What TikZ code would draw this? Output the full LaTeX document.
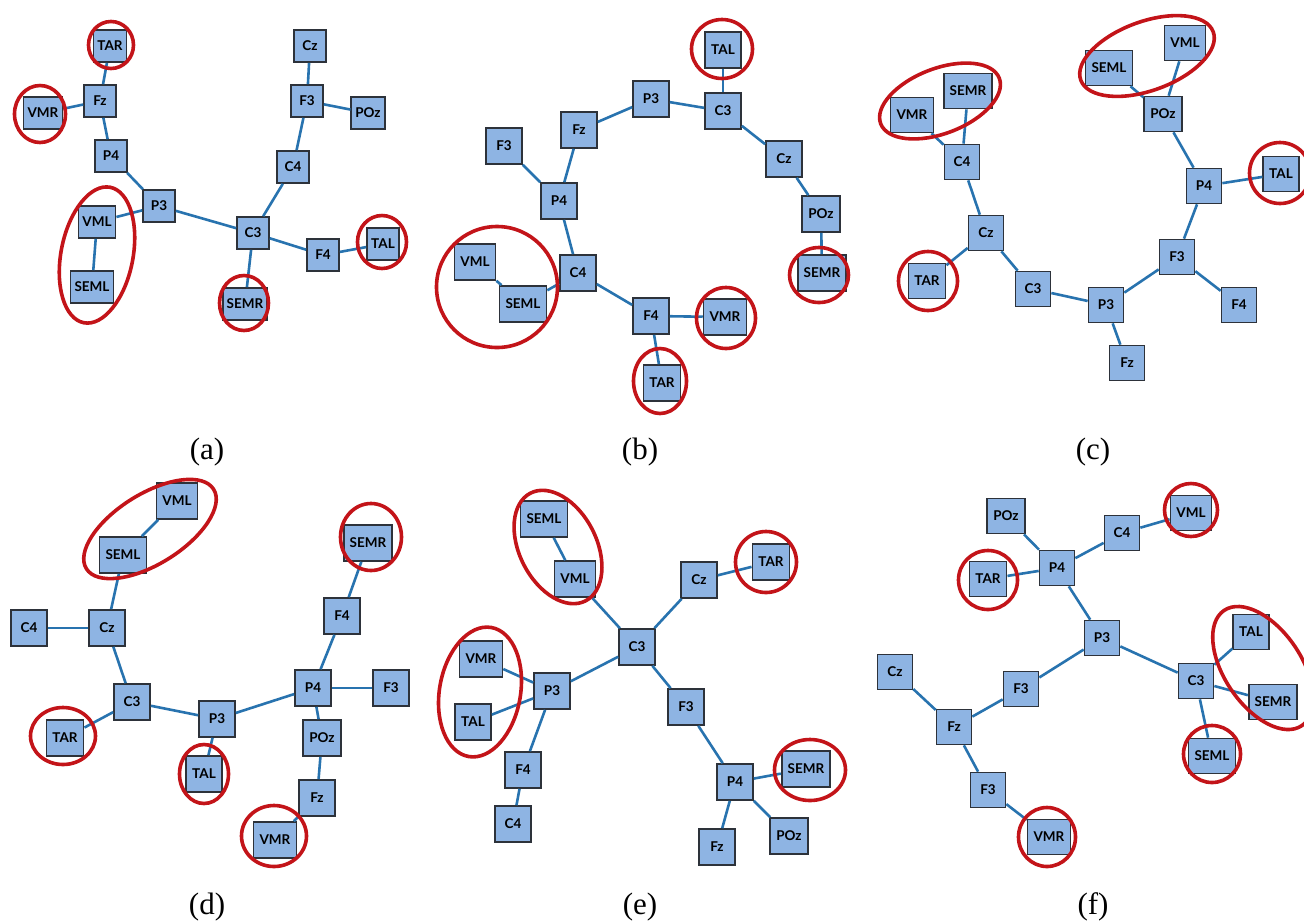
\documentclass[tikz,border=0pt]{standalone}
\usepackage{fontspec}
\setmainfont{Liberation Serif}
\newfontfamily\boxfont{Lato}
\usetikzlibrary{shapes.geometric}

\definecolor{boxfill}{RGB}{142,180,227}
\definecolor{boxline}{RGB}{45,50,58}
\definecolor{linkblue}{RGB}{40,115,175}
\definecolor{ringred}{RGB}{195,20,25}

\tikzset{
  eeg/.style={draw=boxline, fill=boxfill, line width=1.7pt, inner xsep=6pt, inner ysep=0pt,
    minimum width=36pt, minimum height=36pt,
    font=\boxfont\bfseries\fontsize{13.5pt}{13.5pt}\selectfont},
  eegsmall/.style={eeg, minimum width=32pt, minimum height=32pt, inner xsep=4pt},
  eegmid/.style={eeg, minimum width=35pt, minimum height=35pt},
  link/.style={draw=linkblue, line width=2.6pt},
  ring/.style={draw=ringred, line width=3.6pt, ellipse, inner sep=0pt},
  caption/.style={font=\fontsize{31pt}{31pt}\selectfont, inner sep=0pt}
}

\begin{document}
\begin{tikzpicture}[x=1pt,y=-1pt]
\path[use as bounding box, fill=white] (0,0) rectangle (1304,922);

% ---------- (a) ----------
\node[eegsmall] (aTAR) at (110,46) {TAR};
\node[eegsmall] (aFz) at (100,101) {Fz};
\node[eegsmall] (aVMR) at (43,113) {VMR};
\node[eegsmall] (aP4) at (111,156) {P4};
\node[eegsmall] (aP3) at (159,206) {P3};
\node[eegsmall] (aVML) at (97,222) {VML};
\node[eegsmall] (aSEML) at (92,287) {SEML};
\node[eegsmall] (aC3) at (253,233) {C3};
\node[eegsmall] (aSEMR) at (245,304) {SEMR};
\node[eegsmall] (aF4) at (323,255) {F4};
\node[eegsmall] (aTAL) at (383,244) {TAL};
\node[eegsmall] (aC4) at (293,167) {C4};
\node[eegsmall] (aF3) at (307,101) {F3};
\node[eegsmall] (aCz) at (310,46) {Cz};
\node[eegsmall] (aPOz) at (368,113) {POz};
\foreach \u/\v in {aTAR/aFz, aFz/aVMR, aFz/aP4, aP4/aP3, aP3/aVML, aVML/aSEML, aP3/aC3,
  aC3/aSEMR, aC3/aF4, aF4/aTAL, aC3/aC4, aC4/aF3, aF3/aCz, aF3/aPOz}
  \draw[link] (\u) -- (\v);
\node[ring, minimum width=45pt, minimum height=47pt] (aR1) at (111,45) {};
\node[ring, minimum width=51pt, minimum height=57pt] (aR2) at (40,114) {};
\node[ring, minimum width=138pt, minimum height=72pt, rotate=79] (aR3) at (97,255) {};
\node[ring, minimum width=49pt, minimum height=55pt] (aR4) at (244,303) {};
\node[ring, minimum width=49pt, minimum height=53pt] (aR5) at (382,242) {};
\node[caption] (capA) at (207,452) {(a)};

% ---------- (b) ----------
\node[eeg] (bTAL) at (723,50) {TAL};
\node[eeg] (bC3) at (723,111) {C3};
\node[eeg] (bP3) at (651,99) {P3};
\node[eeg] (bFz) at (579,130) {Fz};
\node[eeg] (bF3) at (504,146) {F3};
\node[eeg] (bP4) at (559,201) {P4};
\node[eeg] (bCz) at (784,159) {Cz};
\node[eeg] (bPOz) at (821,214) {POz};
\node[eeg] (bSEMR) at (822,273) {SEMR};
\node[eeg] (bC4) at (578,273) {C4};
\node[eeg] (bVML) at (475,262) {VML};
\node[eeg] (bSEML) at (523,304) {SEML};
\node[eeg] (bF4) at (651,316) {F4};
\node[eeg] (bVMR) at (725,317) {VMR};
\node[eeg] (bTAR) at (662,383) {TAR};
\foreach \u/\v in {bTAL/bC3, bC3/bP3, bP3/bFz, bFz/bP4, bF3/bP4, bP4/bC4, bC4/bSEML,
  bSEML/bVML, bC4/bF4, bF4/bVMR, bF4/bTAR, bC3/bCz, bCz/bPOz, bPOz/bSEMR}
  \draw[link] (\u) -- (\v);
\node[ring, minimum width=61pt, minimum height=59pt] (bR1) at (722,49) {};
\node[ring, minimum width=121pt, minimum height=121pt] (bR2) at (497,287) {};
\node[ring, minimum width=59pt, minimum height=61pt] (bR3) at (726,318) {};
\node[ring, minimum width=53pt, minimum height=65pt] (bR4) at (660,381) {};
\node[ring, minimum width=59pt, minimum height=55pt] (bR5) at (819,275) {};
\node[caption] (capB) at (640,452) {(b)};

% ---------- (c) ----------
\node[eegmid] (cVMR) at (912,115) {VMR};
\node[eegmid] (cSEMR) at (968,91) {SEMR};
\node[eegmid] (cC4) at (962,162) {C4};
\node[eegmid] (cCz) at (986,233) {Cz};
\node[eegmid] (cTAR) at (927,281) {TAR};
\node[eegmid] (cC3) at (1033,289) {C3};
\node[eegmid] (cP3) at (1106,305) {P3};
\node[eegmid] (cFz) at (1127,363) {Fz};
\node[eegmid] (cF3) at (1177,257) {F3};
\node[eegmid] (cF4) at (1239,305) {F4};
\node[eegmid] (cP4) at (1204,186) {P4};
\node[eegmid] (cTAL) at (1281,174) {TAL};
\node[eegmid] (cPOz) at (1163,114) {POz};
\node[eegmid] (cSEML) at (1109,68) {SEML};
\node[eegmid] (cVML) at (1185,43) {VML};
\foreach \u/\v in {cVMR/cC4, cSEMR/cC4, cC4/cCz, cCz/cTAR, cCz/cC3, cC3/cP3, cP3/cFz,
  cP3/cF3, cF3/cF4, cF3/cP4, cP4/cTAL, cP4/cPOz, cPOz/cSEML, cPOz/cVML}
  \draw[link] (\u) -- (\v);
\node[ring, minimum width=127pt, minimum height=65pt, rotate=21] (cR1) at (940,101) {};
\node[ring, minimum width=141pt, minimum height=69pt, rotate=20] (cR2) at (1147,56) {};
\node[ring, minimum width=59pt, minimum height=59pt] (cR3) at (928,281) {};
\node[ring, minimum width=61pt, minimum height=61pt] (cR4) at (1280,173) {};
\node[caption] (capC) at (1093,452) {(c)};

% ---------- (d) ----------
\node[eeg] (dVML) at (177,501) {VML};
\node[eeg] (dSEML) at (123,555) {SEML};
\node[eeg] (dC4) at (29,628) {C4};
\node[eeg] (dCz) at (107,628) {Cz};
\node[eeg] (dC3) at (132,702) {C3};
\node[eeg] (dTAR) at (65,738) {TAR};
\node[eeg] (dP3) at (217,719) {P3};
\node[eeg] (dTAL) at (204,774) {TAL};
\node[eeg] (dP4) at (313,688) {P4};
\node[eeg] (dF3) at (391,688) {F3};
\node[eeg] (dF4) at (342,616) {F4};
\node[eeg] (dSEMR) at (368,543) {SEMR};
\node[eeg] (dPOz) at (322,738) {POz};
\node[eeg] (dFz) at (317,798) {Fz};
\node[eeg] (dVMR) at (275,840) {VMR};
\foreach \u/\v in {dVML/dSEML, dSEML/dCz, dC4/dCz, dCz/dC3, dC3/dTAR, dC3/dP3, dP3/dTAL,
  dP3/dP4, dP4/dF3, dP4/dF4, dF4/dSEMR, dP4/dPOz, dPOz/dFz, dFz/dVMR}
  \draw[link] (\u) -- (\v);
\node[ring, minimum width=150pt, minimum height=70pt, rotate=32] (dR1) at (150,529) {};
\node[ring, minimum width=61pt, minimum height=67pt] (dR2) at (371,537) {};
\node[ring, minimum width=65pt, minimum height=57pt] (dR3) at (63,736) {};
\node[ring, minimum width=49pt, minimum height=59pt] (dR4) at (204,774) {};
\node[ring, minimum width=65pt, minimum height=61pt] (dR5) at (274,836) {};
\node[caption] (capD) at (207,907) {(d)};

% ---------- (e) ----------
\node[eeg] (eSEML) at (544,519) {SEML};
\node[eeg] (eVML) at (575,579) {VML};
\node[eeg] (eCz) at (699,580) {Cz};
\node[eeg] (eTAR) at (771,562) {TAR};
\node[eeg] (eC3) at (637,647) {C3};
\node[eeg] (eVMR) at (481,659) {VMR};
\node[eeg] (eP3) at (552,691) {P3};
\node[eeg] (eTAL) at (473,722) {TAL};
\node[eeg] (eF4) at (523,770) {F4};
\node[eeg] (eC4) at (513,824) {C4};
\node[eeg] (eF3) at (686,707) {F3};
\node[eeg] (eP4) at (735,782) {P4};
\node[eeg] (eSEMR) at (806,769) {SEMR};
\node[eeg] (eFz) at (717,847) {Fz};
\node[eeg] (ePOz) at (789,836) {POz};
\foreach \u/\v in {eSEML/eVML, eVML/eC3, eC3/eCz, eCz/eTAR, eC3/eP3, eP3/eVMR, eP3/eTAL,
  eP3/eF4, eF4/eC4, eC3/eF3, eF3/eP4, eP4/eSEMR, eP4/eFz, eP4/ePOz}
  \draw[link] (\u) -- (\v);
\node[ring, minimum width=121pt, minimum height=77pt, rotate=-63] (eR1) at (558,547) {};
\node[ring, minimum width=61pt, minimum height=61pt] (eR2) at (766,562) {};
\node[ring, minimum width=131pt, minimum height=81pt, rotate=80] (eR3) at (480,692) {};
\node[ring, minimum width=71pt, minimum height=61pt] (eR4) at (810,770) {};
\node[caption] (capE) at (640,907) {(e)};

% ---------- (f) ----------
\node[eegmid] (fPOz) at (1006,516) {POz};
\node[eegmid] (fC4) at (1122,533) {C4};
\node[eegmid] (fVML) at (1191,513) {VML};
\node[eegmid] (fP4) at (1057,568) {P4};
\node[eegmid] (fTAR) at (988,579) {TAR};
\node[eegmid] (fP3) at (1102,638) {P3};
\node[eegmid] (fTAL) at (1251,632) {TAL};
\node[eegmid] (fC3) at (1196,681) {C3};
\node[eegmid] (fSEMR) at (1273,702) {SEMR};
\node[eegmid] (fSEML) at (1212,756) {SEML};
\node[eegmid] (fCz) at (895,672) {Cz};
\node[eegmid] (fF3a) at (1021,689) {F3};
\node[eegmid] (fFz) at (954,727) {Fz};
\node[eegmid] (fF3b) at (988,790) {F3};
\node[eegmid] (fVMR) at (1049,837) {VMR};
\foreach \u/\v in {fPOz/fP4, fTAR/fP4, fP4/fC4, fC4/fVML, fP4/fP3, fP3/fC3, fC3/fTAL,
  fC3/fSEMR, fC3/fSEML, fP3/fF3a, fF3a/fFz, fCz/fFz, fFz/fF3b, fF3b/fVMR}
  \draw[link] (\u) -- (\v);
\node[ring, minimum width=53pt, minimum height=53pt] (fR1) at (1191,510) {};
\node[ring, minimum width=59pt, minimum height=59pt] (fR2) at (988,580) {};
\node[ring, minimum width=139pt, minimum height=77pt, rotate=-56] (fR3) at (1263,668) {};
\node[ring, minimum width=57pt, minimum height=57pt] (fR4) at (1212,754) {};
\node[ring, minimum width=57pt, minimum height=59pt] (fR5) at (1047,837) {};
\node[caption] (capF) at (1093,907) {(f)};
\end{tikzpicture}
\end{document}
